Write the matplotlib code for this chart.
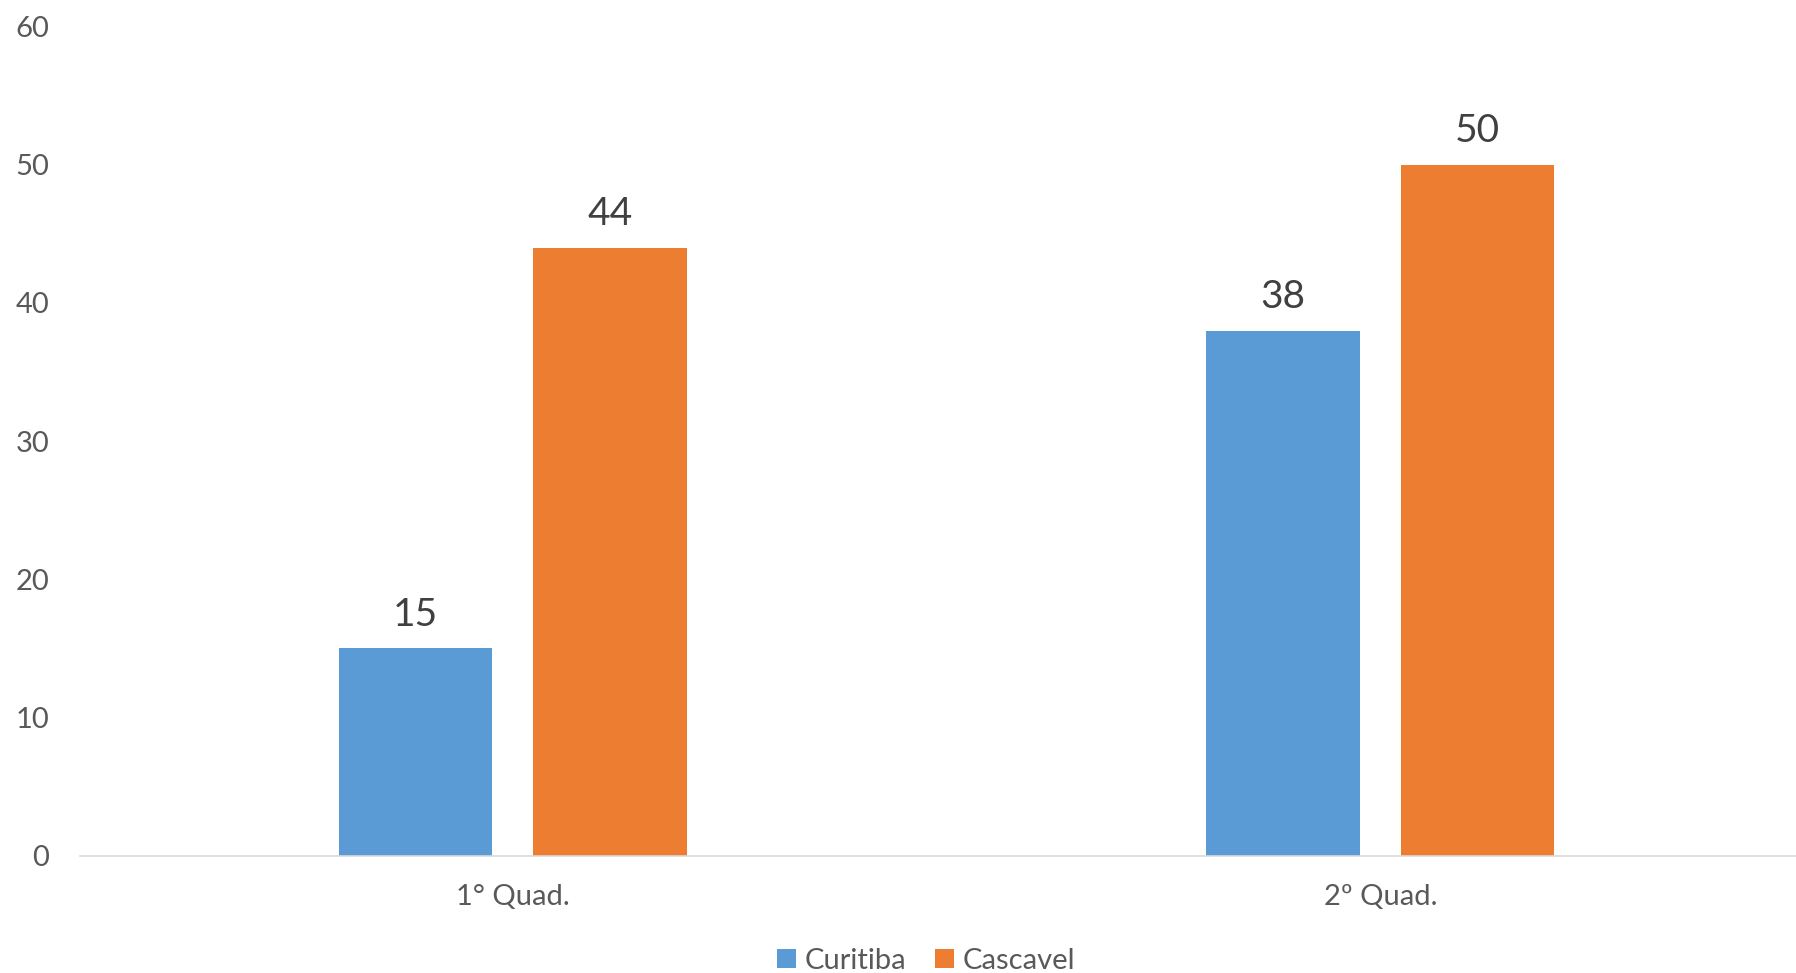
import matplotlib.pyplot as plt
from matplotlib.patches import Patch

# data
categories = ['1° Quad.', '2º Quad.']
series = ['Curitiba', 'Cascavel']
curitiba = [15, 38]
cascavel = [44, 50]
colors = ['#5B9BD5', '#ED7D31']

plt.rcParams['font.family'] = ['Lato', 'DejaVu Sans']

fig = plt.figure(figsize=(17.96, 9.73), dpi=100)
ax = fig.add_axes([0.0445, 0.1205, 0.9555, 0.8523])

width = 0.177
offset = 0.112
x = range(len(categories))
values = [curitiba, cascavel]
for i, (name, vals) in enumerate(zip(series, values)):
    pos = [k + (i * 2 - 1) * offset for k in x]
    bars = ax.bar(pos, vals, width=width, color=colors[i], label=name)
    for b, v in zip(bars, vals):
        ax.annotate(str(v), (b.get_x() + b.get_width() / 2, v),
                    xytext=(0, 16), textcoords='offset points',
                    ha='center', va='baseline', fontsize=28, color='#404040')

ax.set_xlim(-0.499, 1.479)
ax.set_ylim(0, 60)
ax.set_yticks(range(0, 61, 10))
ax.set_xticks(list(x))
ax.set_xticklabels(categories)
ax.tick_params(axis='both', length=0, labelsize=21, labelcolor='#595959')
ax.tick_params(axis='y', pad=22)
ax.tick_params(axis='x', pad=20)
for s in ['top', 'right', 'left']:
    ax.spines[s].set_visible(False)
ax.spines['bottom'].set_color('#D9D9D9')
ax.spines['bottom'].set_linewidth(1.2)

handles = [Patch(facecolor=c, label=n) for c, n in zip(colors, series)]
leg = fig.legend(handles=handles, loc='center', bbox_to_anchor=(926 / 1796, 1 - 961 / 973),
                 ncol=2, frameon=False, fontsize=21, handlelength=0.65, handleheight=0.65,
                 handletextpad=0.3, columnspacing=1.0, borderpad=0)
for t in leg.get_texts():
    t.set_color('#595959')

fig.savefig('out.png', dpi=100)
